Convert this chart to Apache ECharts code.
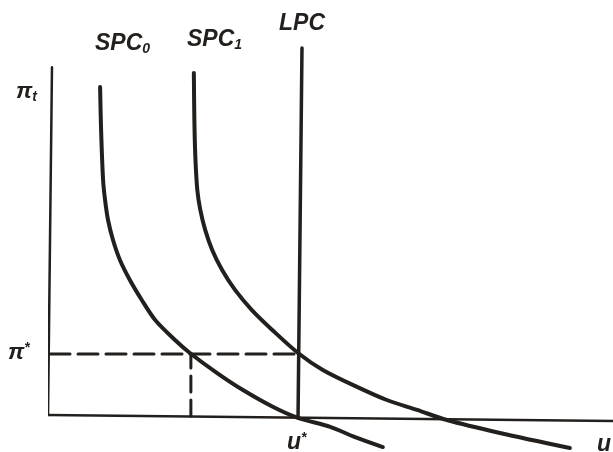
<!DOCTYPE html>
<html>
<head>
<meta charset="utf-8">
<script src="https://cdn.jsdelivr.net/npm/echarts@6/dist/echarts.min.js"></script>
<style>html,body{margin:0;padding:0;background:#fff;}#c{width:613px;height:452px;}</style>
</head>
<body>
<div id="c"></div>
<script>
// Data (u = unemployment, pi = inflation)
var uStar = 5.0;
var piStar = 1.94;
var uAtPiStarOnSPC0 = 2.84;
var yAxisLine = [[-0.04, 0.03], [0.04, 10.9]];
var xAxisLine = [[-0.04, 0.03], [11.35, -0.16]];
var lpcLine = [[5.0, -0.06], [5.08, 11.5]];
var spc0 = [[1.01,10.28],[1.03,8.94],[1.07,7.375],[1.11,6.75],[1.17,6.125],[1.27,5.5],[1.41,4.875],[1.61,4.25],[1.85,3.625],[2.12,3.0],[2.52,2.375],[2.82,1.97],[3.37,1.34],[3.89,0.81],[4.5,0.28],[5.0,-0.06],[5.65,-0.34],[6.15,-0.66],[6.71,-0.97]];
var spc1 = [[2.9,10.72],[2.91,9.3],[2.93,8.1],[2.97,7.06],[3.03,6.44],[3.13,5.81],[3.27,5.19],[3.47,4.56],[3.73,3.94],[4.07,3.31],[4.48,2.69],[5.0,1.97],[5.5,1.44],[6.19,0.91],[6.79,0.5],[7.4,0.19],[8.0,-0.125],[9.07,-0.53],[10.48,-1.0]];

var ink = '#231f1c';
var chart = echarts.init(document.getElementById('c'));
function lineSeries(data, w, dash, smooth) {
  return {type:'line', data:data, symbol:'none', smooth:smooth||false, clip:false, silent:true,
    lineStyle:{color:ink, width:w, type:dash||'solid', cap:'round', join:'round'}, z: dash ? 1 : 2};
}
function txt(x, y, text, rich) {
  return {type:'text', x:x, y:y, style:{text:text, fill:ink, align:'left', verticalAlign:'middle', rich:rich}};
}
var fam = '"Liberation Sans", Arial, sans-serif';
var subRich = {
  m:{fontSize:23, fontWeight:'bold', fontStyle:'italic', fontFamily:fam, fill:ink},
  s:{fontSize:14, fontWeight:'bold', fontStyle:'italic', fontFamily:fam, fill:ink, padding:[10,0,0,0]},
  p:{fontSize:14, fontWeight:'bold', fontStyle:'italic', fontFamily:fam, fill:ink, padding:[0,0,10,0]}
};
chart.setOption({
  animation:false,
  grid:{left:50, right:0, top:0, bottom:0},
  xAxis:{type:'value', min:0, max:11.35, show:false},
  yAxis:{type:'value', min:-1.125, max:13, show:false},
  series:[
    lineSeries(yAxisLine, 2.5),
    lineSeries(xAxisLine, 2.5),
    lineSeries(lpcLine, 3.5),
    lineSeries([[0,piStar],[uStar,piStar]], 3, [20,8]),
    lineSeries([[uAtPiStarOnSPC0,0],[uAtPiStarOnSPC0,piStar]], 3, [16,8]),
    lineSeries(spc0, 4, null, 0.3),
    lineSeries(spc1, 4, null, 0.3)
  ],
  graphic:[
    txt(95, 44, '{m|SPC}{s|0}', subRich),
    txt(187, 40, '{m|SPC}{s|1}', subRich),
    txt(279, 24, '{m|LPC}', subRich),
    txt(16, 92, '{m|π}{s|t}', subRich),
    txt(8, 353, '{m|π}{p|*}', subRich),
    txt(287, 443, '{m|u}{p|*}', subRich),
    txt(597, 445, '{m|u}', subRich)
  ]
});
</script>
</body>
</html>
